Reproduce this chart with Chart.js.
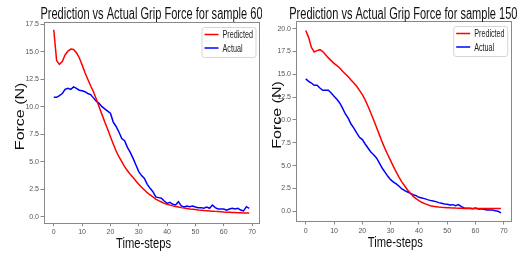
<!DOCTYPE html>
<html>
<head>
<meta charset="utf-8">
<script src="https://cdn.jsdelivr.net/npm/chart.js@4.4.1/dist/chart.umd.min.js"></script>
<style>
    html, body { margin: 0; padding: 0; background: #fff; }
    #wrap { position: relative; width: 521px; height: 257px; overflow: hidden; }
    canvas { position: absolute; top: 0; }
    #chart60 { left: 0; }
    #chart150 { left: 262px; }
</style>
</head>
<body>
<div id="wrap">
    <canvas id="chart60" width="262" height="257"></canvas>
    <canvas id="chart150" width="259" height="257"></canvas>
</div>
<script>
// Time-steps (x categories)
const timeSteps = Array.from({ length: 70 }, (_, i) => i);

// Sample 60
const predicted60 = [
    17.0, 14.2, 13.85, 14.1, 14.7, 15.06, 15.24, 15.2, 14.9, 14.45,
    13.8, 13.1, 12.5, 11.9, 11.36, 10.7, 10.0, 9.3, 8.6, 7.97,
    7.27, 6.6, 5.97, 5.45, 5.0, 4.55, 4.18, 3.85, 3.55, 3.24,
    2.94, 2.67, 2.42, 2.18, 1.97, 1.79, 1.6, 1.45, 1.33, 1.21,
    1.12, 1.05, 0.98, 0.92, 0.87, 0.82, 0.78, 0.74, 0.7, 0.67,
    0.64, 0.61, 0.59, 0.56, 0.54, 0.52, 0.5, 0.48, 0.46, 0.44,
    0.42, 0.41, 0.4, 0.38, 0.37, 0.36, 0.35, 0.34, 0.34, 0.33
];
const actual60 = [
    10.85, 10.85, 11.0, 11.2, 11.57, 11.67, 11.57, 11.8, 11.67, 11.5,
    11.45, 11.36, 11.2, 11.1, 10.8, 10.5, 10.3, 10.0, 9.8, 9.6,
    9.4, 8.6, 8.2, 7.7, 7.1, 6.9, 6.3, 5.85, 5.3, 4.7,
    4.1, 3.73, 3.48, 2.94, 2.58, 2.27, 1.79, 1.73, 1.67, 1.42,
    1.21, 1.3, 1.12, 1.06, 1.36, 0.97, 0.88, 0.97, 0.91, 0.97,
    0.88, 0.82, 0.82, 0.76, 0.88, 0.76, 1.06, 0.82, 0.7, 0.7,
    0.7, 0.58, 0.7, 0.76, 0.7, 0.76, 0.6, 0.52, 0.91, 0.76
];

// Sample 150
const predicted150 = [
    19.8, 19.05, 17.95, 17.45, 17.6, 17.7, 17.5, 17.15, 16.8, 16.5,
    16.2, 15.95, 15.7, 15.33, 15.04, 14.74, 14.38, 14.05, 13.7, 13.25,
    12.77, 12.2, 11.5, 10.77, 10.0, 9.2, 8.4, 7.6, 6.86, 6.2,
    5.55, 4.9, 4.3, 3.72, 3.2, 2.77, 2.34, 1.97, 1.64, 1.39,
    1.17, 0.99, 0.84, 0.73, 0.62, 0.55, 0.51, 0.47, 0.44, 0.42,
    0.4, 0.38, 0.37, 0.35, 0.34, 0.33, 0.32, 0.32, 0.31, 0.31,
    0.3, 0.3, 0.3, 0.3, 0.3, 0.3, 0.3, 0.3, 0.3, 0.3
];
const actual150 = [
    14.5, 14.23, 14.05, 13.8, 13.8, 13.5, 13.25, 13.25, 13.25, 12.96,
    12.6, 12.26, 11.86, 11.3, 10.66, 10.2, 9.56, 9.12, 8.58, 8.1,
    7.85, 7.37, 6.93, 6.5, 6.2, 5.84, 5.3, 4.74, 4.3, 3.83,
    3.47, 3.2, 3.0, 2.74, 2.45, 2.26, 2.12, 1.97, 1.82, 1.72,
    1.53, 1.46, 1.39, 1.28, 1.2, 1.13, 1.06, 0.95, 0.88, 0.8,
    0.77, 0.69, 0.73, 0.62, 0.73, 0.51, 0.36, 0.33, 0.33, 0.29,
    0.36, 0.26, 0.29, 0.22, 0.15, 0.15, 0.15, 0.07, 0.0, -0.18
];

// Tick labels
const xTicks = [0, 10, 20, 30, 40, 50, 60, 70];
const yTicks60 = [0, 2.5, 5, 7.5, 10, 12.5, 15, 17.5];
const yTicks150 = [0, 2.5, 5, 7.5, 10, 12.5, 15, 17.5, 20];

const FONT = '"Liberation Sans", Arial, sans-serif';

// draw text squeezed horizontally (the reference is narrow)
function squeezedText(ctx, text, x, y, size, sx, align, color) {
    ctx.save();
    ctx.translate(x, y);
    ctx.scale(sx, 1);
    ctx.font = size + 'px ' + FONT;
    ctx.fillStyle = color;
    ctx.textAlign = align;
    ctx.textBaseline = 'alphabetic';
    ctx.fillText(text, 0, 0);
    ctx.restore();
}

function roundBox(ctx, x, y, w, h, r) {
    ctx.beginPath();
    ctx.moveTo(x + r, y);
    ctx.arcTo(x + w, y, x + w, y + h, r);
    ctx.arcTo(x + w, y + h, x, y + h, r);
    ctx.arcTo(x, y + h, x, y, r);
    ctx.arcTo(x, y, x + w, y, r);
    ctx.closePath();
}

// Frame, titles, axis labels and the legend box
const decorPlugin = {
    id: 'decor',
    afterDraw(chart, args, opts) {
        const ctx = chart.ctx;
        const a = chart.chartArea;

        ctx.save();
        ctx.strokeStyle = '#888';
        ctx.lineWidth = 1;
        ctx.strokeRect(Math.round(a.left) + 0.5, Math.round(a.top) + 0.5,
            Math.round(a.right - a.left), Math.round(a.bottom - a.top));
        ctx.restore();

        const cx = (a.left + a.right) / 2;
        squeezedText(ctx, opts.title, cx, 18.5, 16, 0.69, 'center', '#111');
        squeezedText(ctx, 'Time-steps', cx - 8, a.bottom + 25.5, 14, 0.8, 'center', '#111');

        ctx.save();
        ctx.translate(opts.yLabelX, (a.top + a.bottom) / 2 - 6);
        ctx.rotate(-Math.PI / 2);
        ctx.scale(1, 0.85);
        ctx.font = '16px ' + FONT;
        ctx.fillStyle = '#111';
        ctx.textAlign = 'center';
        ctx.textBaseline = 'middle';
        ctx.fillText('Force (N)', 0, 0);
        ctx.restore();

        // legend
        const bw = 54, bh = 30;
        const bx = a.right - 3.5 - bw, by = a.top + 5;
        ctx.save();
        roundBox(ctx, bx + 0.5, by + 0.5, bw, bh, 2.5);
        ctx.fillStyle = 'rgba(255,255,255,0.85)';
        ctx.fill();
        ctx.strokeStyle = '#d6d6d6';
        ctx.lineWidth = 1;
        ctx.stroke();
        chart.data.datasets.forEach((ds, i) => {
            const ly = by + 7.5 + i * 13.5;
            ctx.strokeStyle = ds.borderColor;
            ctx.lineWidth = 1.5;
            ctx.beginPath();
            ctx.moveTo(bx + 3, ly);
            ctx.lineTo(bx + 17, ly);
            ctx.stroke();
            squeezedText(ctx, ds.label, bx + 21, ly + 3.5, 10, 0.72, 'left', '#222');
        });
        ctx.restore();
    }
};

function makeChart(canvasId, cfg) {
    const ctx = document.getElementById(canvasId).getContext('2d');
    return new Chart(ctx, {
        type: 'line',
        data: {
            labels: timeSteps,
            datasets: [{
                label: 'Predicted',
                data: cfg.predicted,
                borderColor: '#ff0000',
                borderWidth: 1.5,
                pointRadius: 0,
                tension: 0
            }, {
                label: 'Actual',
                data: cfg.actual,
                borderColor: '#0000ff',
                borderWidth: 1.5,
                pointRadius: 0,
                tension: 0
            }]
        },
        options: {
            responsive: false,
            animation: false,
            layout: { padding: { top: cfg.top, right: cfg.right, left: 0, bottom: 0 } },
            scales: {
                x: {
                    type: 'linear',
                    min: -3.45,
                    max: 72.45,
                    afterFit: s => { s.height = cfg.xHeight; },
                    afterBuildTicks: s => { s.ticks = xTicks.map(v => ({ value: v })); },
                    grid: { drawOnChartArea: false, drawTicks: true, tickLength: 3.5, tickColor: '#888' },
                    border: { display: false },
                    ticks: {
                        autoSkip: false,
                        maxRotation: 0,
                        padding: 2,
                        color: '#555',
                        font: { family: FONT, size: 7 },
                        callback: v => String(v)
                    }
                },
                y: {
                    type: 'linear',
                    min: cfg.yMin,
                    max: cfg.yMax,
                    afterFit: s => { s.width = cfg.yWidth; },
                    afterBuildTicks: s => { s.ticks = cfg.yTicks.map(v => ({ value: v })); },
                    grid: { drawOnChartArea: false, drawTicks: true, tickLength: 3.5, tickColor: '#888' },
                    border: { display: false },
                    ticks: {
                        padding: 1.5,
                        color: '#555',
                        font: { family: FONT, size: 7 },
                        callback: v => v.toFixed(1)
                    }
                }
            },
            plugins: {
                legend: { display: false },
                tooltip: { enabled: false },
                decor: { title: cfg.title, yLabelX: cfg.yLabelX }
            }
        },
        plugins: [decorPlugin]
    });
}

makeChart('chart60', {
    title: 'Prediction vs Actual Grip Force for sample 60',
    predicted: predicted60,
    actual: actual60,
    yTicks: yTicks60,
    yMin: -0.55, yMax: 17.7,
    top: 22, right: 3, yWidth: 44, xHeight: 34.3,
    yLabelX: 20
});

makeChart('chart150', {
    title: 'Prediction vs Actual Grip Force for sample 150',
    predicted: predicted150,
    actual: actual150,
    yTicks: yTicks150,
    yMin: -1.06, yMax: 20.84,
    top: 21, right: 10.3, yWidth: 34, xHeight: 36,
    yLabelX: 15
});
</script>
</body>
</html>
